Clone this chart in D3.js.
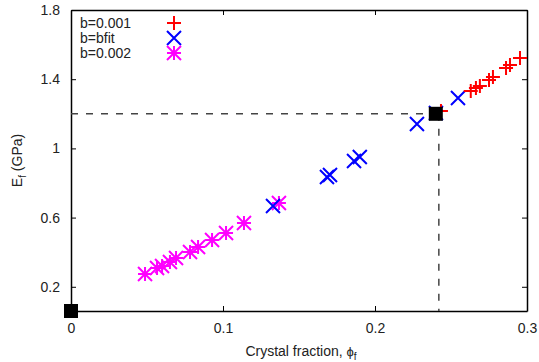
<!DOCTYPE html>
<html>
<head>
<meta charset="utf-8">
<script src="https://cdn.jsdelivr.net/npm/d3@7"></script>
<style>
  body { margin: 0; background: #fff; }
  svg { display: block; font-family: "Liberation Sans", Arial, sans-serif; }
</style>
</head>
<body>
<div class="canva"></div>
<script>
// data: crystal fraction (phi) vs fibre modulus E_f (GPa)
const phiB001 = [0.2954, 0.2888, 0.2862, 0.2776, 0.2750, 0.2690, 0.2664, 0.2630, 0.2434];
const eB001   = [1.522, 1.482, 1.465, 1.413, 1.395, 1.361, 1.349, 1.332, 1.216];

const phiBfit = [0.1329, 0.1684, 0.1704, 0.1862, 0.1900, 0.2276, 0.2401, 0.2546];
const eBfit   = [0.667, 0.835, 0.846, 0.927, 0.950, 1.141, 1.205, 1.291];

const phiB002 = [0.0487, 0.0566, 0.0599, 0.0651, 0.0691, 0.0783, 0.0836, 0.0928, 0.1020, 0.1138, 0.1368];
const eB002   = [0.274, 0.309, 0.320, 0.343, 0.366, 0.401, 0.430, 0.470, 0.511, 0.569, 0.684];

// black squares: matrix (phi=0) and the fitted point
const phiRef = [0, 0.24];
const eRef   = [0.06, 1.2];
// dashed guide lines
const guidePhi = 0.242;
const guideE = 1.2;

const seriesNames = ["b=0.001", "b=bfit", "b=0.002"];
const xTicks = [0, 0.1, 0.2, 0.3];
const yTicks = [0.2, 0.6, 1, 1.4, 1.8];

//set up svg size
const W = 539, H = 362;
const m = {left: 71, right: 12, top: 10, bottom: 51};

const svg = d3.select(".canva").append("svg")
              .attr("width", W)
              .attr("height", H);

const x = d3.scaleLinear().domain([0, 0.3]).range([m.left, W - m.right]);
const y = d3.scaleLinear().domain([0.06, 1.8]).range([H - m.bottom, m.top]);

//axes with inward ticks, mirrored on top and right
const fmt = d => String(d);
const gx = svg.append("g").attr("transform", `translate(0,${H - m.bottom})`)
  .call(d3.axisBottom(x).tickValues(xTicks).tickFormat(fmt).tickSizeInner(-5).tickSizeOuter(0).tickPadding(12));
const gy = svg.append("g").attr("transform", `translate(${m.left},0)`)
  .call(d3.axisLeft(y).tickValues(yTicks).tickFormat(fmt).tickSizeInner(-5).tickSizeOuter(0).tickPadding(11));
const gt = svg.append("g").attr("transform", `translate(0,${m.top})`)
  .call(d3.axisTop(x).tickValues(xTicks).tickFormat("").tickSizeInner(-5).tickSizeOuter(0));
const gr = svg.append("g").attr("transform", `translate(${W - m.right},0)`)
  .call(d3.axisRight(y).tickValues(yTicks).tickFormat("").tickSizeInner(-5).tickSizeOuter(0));

[gx, gy, gt, gr].forEach(g => {
  g.select(".domain").attr("stroke", "#000").attr("stroke-width", 1.5);
  g.selectAll(".tick line").attr("stroke", "#000");
  g.selectAll("text").attr("font-size", 14).attr("fill", "#222")
   .attr("font-family", "'Liberation Sans', Arial, sans-serif");
});

//dashed guides
const dash = svg.append("g").attr("stroke", "#444").attr("stroke-width", 1.5)
                .attr("stroke-dasharray", "7,8").attr("fill", "none");
dash.append("line").attr("x1", x(0)).attr("x2", x(guidePhi)).attr("y1", y(guideE)).attr("y2", y(guideE));
dash.append("line").attr("x1", x(guidePhi)).attr("x2", x(guidePhi)).attr("y1", y(guideE)).attr("y2", y(0.06));

//marker paths (gnuplot style: plus, cross, star)
const r = 7;
const plusPath  = `M${-r},0H${r}M0,${-r}V${r}`;
const crossPath = `M${-r},${-r}L${r},${r}M${-r},${r}L${r},${-r}`;
const starPath  = plusPath + crossPath;

function drawSeries(xs, ys, path, color) {
  svg.append("g").selectAll("path")
     .data(xs.map((d, i) => [d, ys[i]]))
     .enter().append("path")
     .attr("d", path)
     .attr("transform", d => `translate(${x(d[0])},${y(d[1])})`)
     .attr("fill", "none")
     .attr("stroke", color)
     .attr("stroke-width", 2);
}

drawSeries(phiB002, eB002, starPath, "#ff00ff");
drawSeries(phiBfit, eBfit, crossPath, "#0000ff");
drawSeries(phiB001, eB001, plusPath, "#ff0000");

//black squares
svg.append("g").selectAll("rect")
   .data(phiRef.map((d, i) => [d, eRef[i]]))
   .enter().append("rect")
   .attr("x", d => x(d[0]) - 7)
   .attr("y", d => y(d[1]) - 7)
   .attr("width", 14)
   .attr("height", 14)
   .attr("fill", "#000");

//legend
const legPaths = [plusPath, crossPath, starPath];
const legColors = ["#ff0000", "#0000ff", "#ff00ff"];
const leg = svg.append("g");
seriesNames.forEach((name, i) => {
  leg.append("text").text(name)
     .attr("x", 80).attr("y", 28 + i * 15)
     .attr("font-size", 14).attr("fill", "#222");
  leg.append("path").attr("d", legPaths[i])
     .attr("transform", `translate(174,${23 + i * 15})`)
     .attr("fill", "none").attr("stroke", legColors[i]).attr("stroke-width", 2);
});

//axis titles
const yl = svg.append("text")
   .attr("transform", `translate(22,${(m.top + H - m.bottom) / 2}) rotate(-90)`)
   .attr("text-anchor", "middle").attr("font-size", 14).attr("fill", "#222");
yl.append("tspan").text("E");
yl.append("tspan").text("f").attr("font-size", 10).attr("dy", 4);
yl.append("tspan").text(" (GPa)").attr("dy", -4);

const xl = svg.append("text")
   .attr("x", (m.left + W - m.right) / 2 + 2).attr("y", 356)
   .attr("text-anchor", "middle").attr("font-size", 14).attr("fill", "#222");
xl.append("tspan").text("Crystal fraction, ");
xl.append("tspan").text("\u03D5").attr("font-size", 13);
xl.append("tspan").text("f").attr("font-size", 10).attr("dy", 4);
</script>
</body>
</html>
